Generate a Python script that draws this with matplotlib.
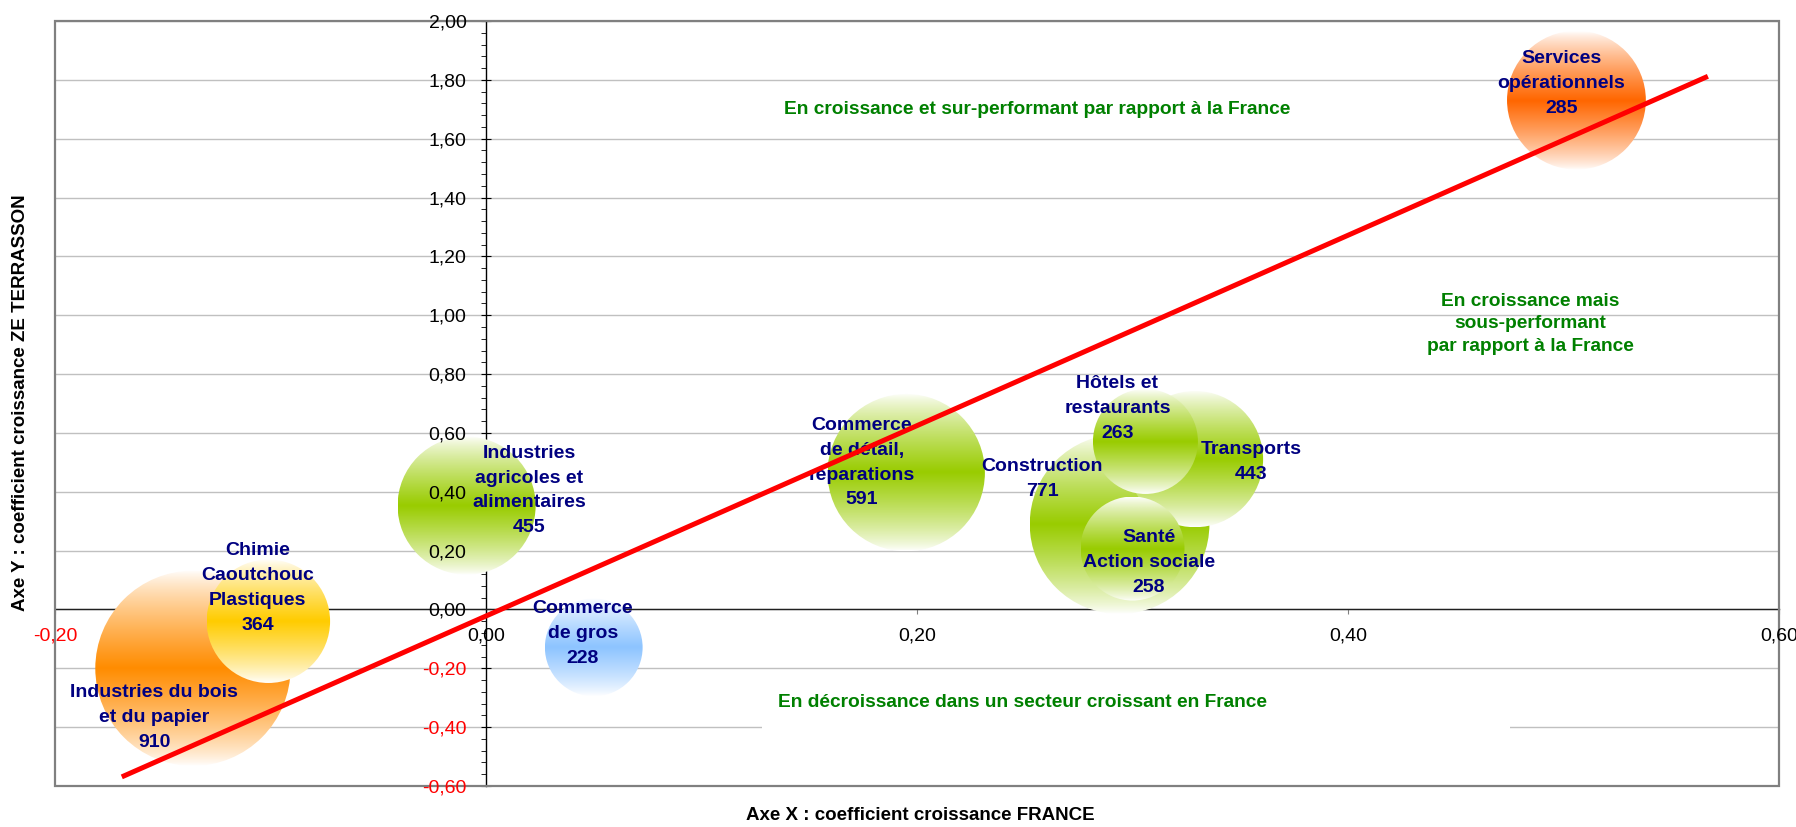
import numpy as np
import matplotlib
matplotlib.use("Agg")
import matplotlib.pyplot as plt
from matplotlib.patches import Ellipse, Rectangle
from matplotlib.colors import to_rgb

plt.rcParams['font.family'] = ['Liberation Sans', 'DejaVu Sans']

# ---------------- data ----------------
sectors = ["Services\nopérationnels", "Industries du bois\net du papier",
           "Chimie\nCaoutchouc\nPlastiques", "Industries\nagricoles et\nalimentaires",
           "Commerce\nde gros", "Commerce\nde détail,\nréparations", "Construction",
           "Hôtels et\nrestaurants", "Transports", "Santé\nAction sociale"]
x_france = [0.506, -0.136, -0.101, -0.009, 0.050, 0.195, 0.294, 0.306, 0.329, 0.300]
y_terrasson = [1.731, -0.200, -0.040, 0.353, -0.129, 0.465, 0.290, 0.571, 0.511, 0.207]
effectifs = [285, 910, 364, 455, 228, 591, 771, 263, 443, 258]
bubble_size = [460, 910, 364, 455, 228, 591, 771, 263, 443, 258]
bubble_colors = ["#FF6600", "#FF8C00", "#FFCC00", "#99CC00", "#8DC4FF",
                 "#99CC00", "#99CC00", "#99CC00", "#99CC00", "#99CC00"]
trend_x = [-0.169, 0.567]
trend_y = [-0.569, 1.812]
x_ticks = [-0.20, 0.00, 0.20, 0.40, 0.60]
y_ticks = [-0.60, -0.40, -0.20, 0.00, 0.20, 0.40, 0.60, 0.80, 1.00,
           1.20, 1.40, 1.60, 1.80, 2.00]

# ---------------- layout ----------------
label_xy = [(0.499, 1.787), (-0.154, -0.367), (-0.106, 0.073), (0.020, 0.404),
            (0.045, -0.082), (0.1745, 0.499), (0.258, 0.443), (0.293, 0.683),
            (0.355, 0.501), (0.3077, 0.160)]
K_PT = 2.33  # bubble radius in points per sqrt(size)

W, H, DPI = 1796, 827, 100
fig = plt.figure(figsize=(W / DPI, H / DPI), dpi=DPI)
rect = [55 / W, 1 - 786 / H, (1779 - 55) / W, (786 - 21) / H]
ax = fig.add_axes(rect)
ax.set_xlim(-0.2, 0.6)
ax.set_ylim(-0.6, 2.0)
ax.set_autoscale_on(False)

def fmt(v):
    return f"{v:.2f}".replace(".", ",").replace("-0,00", "0,00")

# main axes: lines & tick marks (below bubbles)
ax.set_axisbelow(True)
for s in ["top", "right"]:
    ax.spines[s].set_visible(False)
ax.spines["left"].set_position(("data", 0))
ax.spines["bottom"].set_position(("data", 0))
for s in ["left", "bottom"]:
    ax.spines[s].set_zorder(1)
    ax.spines[s].set_linewidth(1.0)
ax.spines["left"].set_color("black")
ax.spines["bottom"].set_color("#202020")
ax.set_xticks(x_ticks)
ax.set_yticks(y_ticks)
minor = [v for v in np.round(np.arange(-0.6, 2.0001, 0.04), 2) if round(v / 0.2, 6) % 1 != 0]
ax.set_yticks(minor, minor=True)
ax.tick_params(axis="x", direction="out", length=3.5, color="#808080", labelbottom=False)
ax.tick_params(axis="y", which="major", direction="inout", length=7, color="black", labelleft=False)
ax.tick_params(axis="y", which="minor", direction="out", length=3.5, color="black")
ax.yaxis.grid(True, color="#C0C0C0", lw=1.0)

# plot border
ax.add_patch(Rectangle((0, 0), 1, 1, transform=ax.transAxes, fill=False,
                       ec="#808080", lw=1.6, zorder=6, clip_on=False))

# white text box in lower quadrant
ax.add_patch(Rectangle((0.128, -0.48), 0.347, 0.21, fc="white", ec="none", zorder=0.8))

# bubbles
fig.canvas.draw()
p0 = ax.transData.transform((0, 0))
sx = ax.transData.transform((1, 0))[0] - p0[0]
sy = ax.transData.transform((0, 1))[1] - p0[1]
order = np.argsort(bubble_size)[::-1]
N = 256
t = np.linspace(0, 1, N)
w = (1 - np.abs(2 * t - 1)) ** 0.8
for z, i in enumerate(order):
    r_px = K_PT * DPI / 72 * np.sqrt(bubble_size[i])
    rx, ry = r_px / sx, r_px / sy
    cx, cy = x_france[i], y_terrasson[i]
    c = np.array(to_rgb(bubble_colors[i]))
    img = 1 - w[:, None, None] * (1 - c[None, None, :])
    im = ax.imshow(img, extent=(cx - rx, cx + rx, cy - ry, cy + ry), origin="lower",
                   aspect="auto", interpolation="bilinear", zorder=2 + z * 0.01)
    ell = Ellipse((cx, cy), 2 * rx, 2 * ry, transform=ax.transData, fc="none", ec="none")
    im.set_clip_path(ell)

# bubble labels
for i in range(len(sectors)):
    ax.text(label_xy[i][0], label_xy[i][1], f"{sectors[i]}\n{effectifs[i]}",
            ha="center", va="center", fontsize=14, fontweight="bold",
            color="#000080", linespacing=1.6, zorder=3)

# trend line
ax.plot(trend_x, trend_y, color="#FF0000", lw=3.6, solid_capstyle="butt", zorder=4)

# quadrant texts
green = "#008000"
ax.text(0.256, 1.70, "En croissance et sur-performant par rapport à la France",
        ha="center", va="center", fontsize=13.8, fontweight="bold", color=green, zorder=3)
ax.text(0.4845, 0.971, "En croissance mais\nsous-performant\npar rapport à la France",
        ha="center", va="center", fontsize=13.8, fontweight="bold", color=green,
        linespacing=1.42, zorder=3)
ax.text(0.249, -0.315, "En décroissance dans un secteur croissant en France",
        ha="center", va="center", fontsize=13.8, fontweight="bold", color=green, zorder=3)

# overlay axes for tick labels (drawn above bubbles)
ax2 = fig.add_axes(rect)
ax2.set_xlim(-0.2, 0.6)
ax2.set_ylim(-0.6, 2.0)
ax2.patch.set_visible(False)
for s in ["top", "right"]:
    ax2.spines[s].set_visible(False)
ax2.spines["left"].set_position(("data", 0))
ax2.spines["bottom"].set_position(("data", 0))
ax2.spines["left"].set_visible(False)
ax2.spines["bottom"].set_visible(False)
ax2.set_xticks(x_ticks, [fmt(v) for v in x_ticks])
ax2.set_yticks(y_ticks, [fmt(v) for v in y_ticks])
ax2.tick_params(axis="x", length=0, pad=13, labelsize=14)
ax2.tick_params(axis="y", length=0, pad=14, labelsize=14)
for lab, v in zip(ax2.get_xticklabels(), x_ticks):
    lab.set_color("red" if v < 0 else "black")
for lab, v in zip(ax2.get_yticklabels(), y_ticks):
    lab.set_color("red" if v < 0 else "black")

# axis titles
fig.text(920 / W, 1 - 815 / H, "Axe X : coefficient croissance FRANCE",
         ha="center", va="center", fontsize=13.5, fontweight="bold")
fig.text(21 / W, 1 - 403 / H, "Axe Y : coefficient croissance ZE TERRASSON",
         ha="center", va="center", rotation=90, fontsize=13.5, fontweight="bold")

fig.savefig("out.png", dpi=DPI, facecolor="white")
